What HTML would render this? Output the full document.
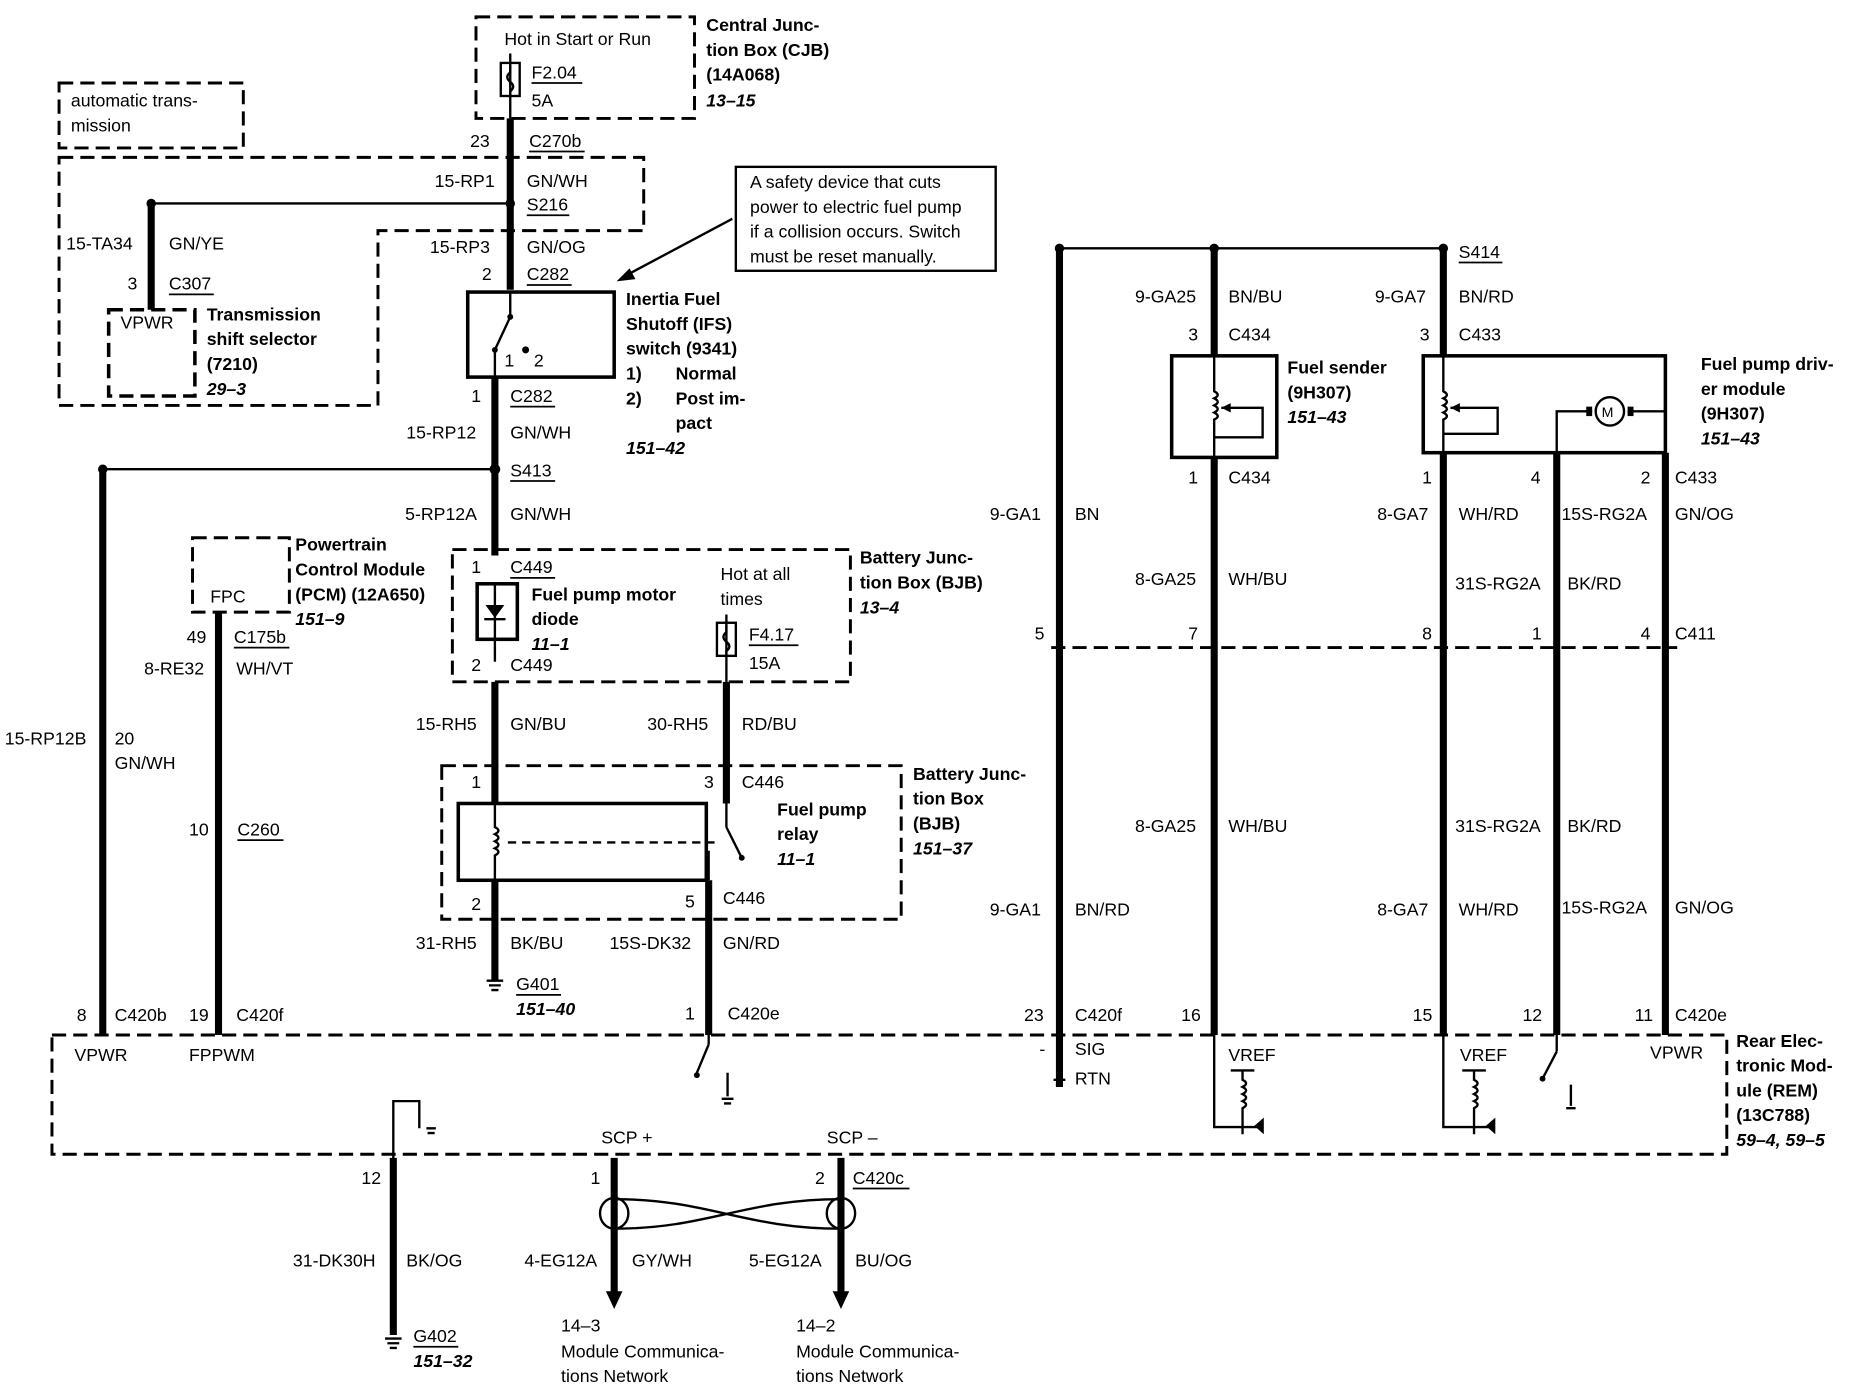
<!DOCTYPE html>
<html><head><meta charset="utf-8"><style>
html,body{margin:0;padding:0;background:#fff;}
svg{display:block;}
text{font-family:"Liberation Sans",Arial,sans-serif;font-size:15px;fill:#000;}
.b{font-weight:bold;}
.i{font-weight:bold;font-style:italic;}
.w{stroke:#000;stroke-width:6;fill:none;}
.t{stroke:#000;stroke-width:2;fill:none;}
.d{stroke:#000;stroke-width:2.5;fill:none;stroke-dasharray:12,6;}
.u{stroke:#000;stroke-width:1.5;}
</style></head><body>
<svg width="1852" height="1392" viewBox="0 0 1568 1178" xmlns="http://www.w3.org/2000/svg">
<rect width="1568" height="1178" fill="#fff"/>
<!-- dashed boxes -->
<rect x="403" y="14" width="185" height="86" class="d"/>
<text x="427" y="38">Hot in Start or Run</text>
<text class="b" x="598" y="26">Central Junc-</text>
<text class="b" x="598" y="47">tion Box (CJB)</text>
<text class="b" x="598" y="68">(14A068)</text>
<text class="i" x="598" y="90">13–15</text>
<rect x="50" y="70" width="156" height="55" class="d"/>
<text x="60" y="90">automatic trans-</text>
<text x="60" y="111">mission</text>
<path d="M50,133 H545 V195 H320 V343 H50 Z" class="d"/>
<rect x="92" y="262" width="73" height="73" class="d" style="stroke-width:3"/>
<text x="102" y="278">VPWR</text>
<text class="b" x="175" y="271">Transmission</text>
<text class="b" x="175" y="292">shift selector</text>
<text class="b" x="175" y="313">(7210)</text>
<text class="i" x="175" y="334">29–3</text>
<!-- fuse F2.04 -->
<line x1="432" y1="45" x2="432" y2="100" class="t"/>
<rect x="424" y="53" width="16" height="28" class="t" fill="#fff"/>
<path d="M432,55 v6 q-5,4 0,8 q5,4 0,8 v4" class="t"/>
<text x="450" y="66">F2.04</text><line x1="450" y1="70" x2="493" y2="70" class="u"/>
<text x="450" y="90">5A</text>
<!-- main wire top -->
<line x1="432" y1="100" x2="432" y2="245" class="w"/>
<text x="398" y="124">23</text><text x="448" y="124">C270b</text><line x1="448" y1="128" x2="495" y2="128" class="u"/>
<text x="368" y="158">15-RP1</text><text x="446" y="158">GN/WH</text>
<circle cx="432" cy="172" r="4"/>
<line x1="128" y1="172" x2="432" y2="172" class="t"/>
<circle cx="128" cy="172" r="4"/>
<text x="446" y="178">S216</text><line x1="446" y1="182" x2="482" y2="182" class="u"/>
<text x="364" y="214">15-RP3</text><text x="446" y="214">GN/OG</text>
<text x="408" y="237">2</text><text x="446" y="237">C282</text><line x1="446" y1="241" x2="484" y2="241" class="u"/>
<!-- 15-TA34 -->
<line x1="128" y1="172" x2="128" y2="262" class="w"/>
<text x="56" y="211">15-TA34</text><text x="143" y="211">GN/YE</text>
<text x="108" y="245">3</text><text x="143" y="245">C307</text><line x1="143" y1="249" x2="181" y2="249" class="u"/>
<!-- callout -->
<rect x="623" y="141" width="220" height="88" class="t"/>
<text x="635" y="159">A safety device that cuts</text>
<text x="635" y="180">power to electric fuel pump</text>
<text x="635" y="201">if a collision occurs. Switch</text>
<text x="635" y="222">must be reset manually.</text>
<line x1="620" y1="185" x2="528" y2="234" class="t"/>
<path d="M522,238 l16,-2 l-5,-9 z"/>
<!-- IFS switch -->
<rect x="396" y="247" width="124" height="72" stroke="#000" stroke-width="3" fill="none"/>
<line x1="432" y1="247" x2="432" y2="268" class="t"/>
<line x1="432" y1="268" x2="419" y2="296" class="t"/>
<circle cx="432" cy="268" r="2.5"/><circle cx="419" cy="296" r="2.5"/><circle cx="445" cy="296" r="3"/>
<text x="427" y="310">1</text><text x="452" y="310">2</text>
<line x1="419" y1="296" x2="419" y2="320" class="t"/>
<text class="b" x="530" y="258">Inertia Fuel</text>
<text class="b" x="530" y="279">Shutoff (IFS)</text>
<text class="b" x="530" y="300">switch (9341)</text>
<text class="b" x="530" y="321">1)</text><text class="b" x="572" y="321">Normal</text>
<text class="b" x="530" y="342">2)</text><text class="b" x="572" y="342">Post im-</text>
<text class="b" x="572" y="363">pact</text>
<text class="i" x="530" y="384">151–42</text>
<!-- lower main -->
<line x1="419" y1="320" x2="419" y2="470" class="w"/>
<text x="399" y="340">1</text><text x="432" y="340">C282</text><line x1="432" y1="344" x2="470" y2="344" class="u"/>
<text x="344" y="371">15-RP12</text><text x="432" y="371">GN/WH</text>
<circle cx="419" cy="397" r="4.5"/>
<line x1="87" y1="397" x2="419" y2="397" class="t"/>
<circle cx="87" cy="397" r="4"/>
<text x="432" y="403">S413</text><line x1="432" y1="407" x2="470" y2="407" class="u"/>
<text x="343" y="440">5-RP12A</text><text x="432" y="440">GN/WH</text>
<!-- BJB 1 -->
<rect x="383" y="465" width="337" height="112" class="d"/>
<text x="399" y="485">1</text><text x="432" y="485">C449</text><line x1="432" y1="489" x2="470" y2="489" class="u"/>
<rect x="404" y="494" width="34" height="47" stroke="#000" stroke-width="3" fill="none"/>
<line x1="419" y1="494" x2="419" y2="560" class="t"/>
<path d="M411,512 h16 l-8,11 z"/><line x1="410" y1="524" x2="428" y2="524" class="t"/>
<text class="b" x="450" y="508">Fuel pump motor</text>
<text class="b" x="450" y="529">diode</text>
<text class="i" x="450" y="550">11–1</text>
<text x="399" y="568">2</text><text x="432" y="568">C449</text>
<text x="610" y="491">Hot at all</text><text x="610" y="512">times</text>
<line x1="615" y1="520" x2="615" y2="577" class="t"/>
<rect x="607" y="527" width="16" height="28" class="t" fill="#fff"/>
<path d="M615,529 v6 q-5,4 0,8 q5,4 0,8 v4" class="t"/>
<text x="634" y="542">F4.17</text><line x1="634" y1="546" x2="676" y2="546" class="u"/>
<text x="634" y="566">15A</text>
<text class="b" x="728" y="477">Battery Junc-</text>
<text class="b" x="728" y="498">tion Box (BJB)</text>
<text class="i" x="728" y="519">13–4</text>
<line x1="419" y1="577" x2="419" y2="680" class="w"/>
<line x1="615" y1="577" x2="615" y2="680" class="w"/>
<text x="352" y="618">15-RH5</text><text x="432" y="618">GN/BU</text>
<text x="548" y="618">30-RH5</text><text x="628" y="618">RD/BU</text>
<!-- BJB 2 relay -->
<rect x="374" y="648" width="389" height="130" class="d"/>
<text x="399" y="667">1</text><text x="596" y="667">3</text><text x="628" y="667">C446</text>
<rect x="388" y="680" width="210" height="65" stroke="#000" stroke-width="3" fill="none"/>
<path d="M419,680 v20 q6,3 0,6 q6,3 0,6 q6,3 0,6 q6,3 0,6 v21" class="t"/>
<line x1="430" y1="713" x2="605" y2="713" class="t" stroke-dasharray="7,5"/>
<line x1="615" y1="680" x2="615" y2="700" class="t"/>
<line x1="615" y1="700" x2="628" y2="726" class="t"/>
<circle cx="628" cy="726" r="2.5"/>
<line x1="600" y1="720" x2="600" y2="745" class="t"/>
<text class="b" x="658" y="690">Fuel pump</text>
<text class="b" x="658" y="711">relay</text>
<text class="i" x="658" y="732">11–1</text>
<text class="b" x="773" y="660">Battery Junc-</text>
<text class="b" x="773" y="681">tion Box</text>
<text class="b" x="773" y="702">(BJB)</text>
<text class="i" x="773" y="723">151–37</text>
<text x="399" y="770">2</text><text x="580" y="768">5</text><text x="612" y="765">C446</text>
<line x1="419" y1="745" x2="419" y2="830" class="w"/>
<line x1="600" y1="745" x2="600" y2="876" class="w"/>
<text x="352" y="803">31-RH5</text><text x="432" y="803">BK/BU</text>
<text x="516" y="803">15S-DK32</text><text x="612" y="803">GN/RD</text>
<path d="M412,830 h14 M414,834 h10 M416,838 h6" class="t"/>
<text x="437" y="838">G401</text><line x1="437" y1="842" x2="475" y2="842" class="u"/>
<text class="i" x="437" y="859">151–40</text>
<!-- PCM -->
<rect x="163" y="455" width="82" height="63" class="d"/>
<text x="178" y="510">FPC</text>
<text class="b" x="250" y="466">Powertrain</text>
<text class="b" x="250" y="487">Control Module</text>
<text class="b" x="250" y="508">(PCM) (12A650)</text>
<text class="i" x="250" y="529">151–9</text>
<line x1="185" y1="518" x2="185" y2="876" class="w"/>
<text x="158" y="544">49</text><text x="198" y="544">C175b</text><line x1="198" y1="548" x2="245" y2="548" class="u"/>
<text x="122" y="571">8-RE32</text><text x="200" y="571">WH/VT</text>
<text x="160" y="707">10</text><text x="201" y="707">C260</text><line x1="201" y1="711" x2="240" y2="711" class="u"/>
<line x1="87" y1="397" x2="87" y2="876" class="w"/>
<text x="4" y="630">15-RP12B</text><text x="97" y="630">20</text><text x="97" y="651">GN/WH</text>
<text x="65" y="864">8</text><text x="97" y="864">C420b</text>
<text x="160" y="864">19</text><text x="200" y="864">C420f</text>
<text x="580" y="863">1</text><text x="616" y="863">C420e</text>
<!-- right side -->
<line x1="897" y1="210" x2="1222" y2="210" class="t"/>
<circle cx="897" cy="210" r="4"/><circle cx="1028" cy="210" r="4"/><circle cx="1222" cy="210" r="4"/>
<text x="1235" y="218">S414</text><line x1="1235" y1="222" x2="1272" y2="222" class="u"/>
<line x1="897" y1="210" x2="897" y2="920" class="w"/>
<line x1="1028" y1="210" x2="1028" y2="300" class="w"/>
<line x1="1222" y1="210" x2="1222" y2="300" class="w"/>
<text x="961" y="256">9-GA25</text><text x="1040" y="256">BN/BU</text>
<text x="1164" y="256">9-GA7</text><text x="1235" y="256">BN/RD</text>
<text x="1006" y="288">3</text><text x="1040" y="288">C434</text>
<text x="1202" y="288">3</text><text x="1235" y="288">C433</text>
<rect x="992" y="301" width="89" height="86" stroke="#000" stroke-width="3" fill="none"/>
<path d="M1028,301 v30 q6,3 0,6 q6,3 0,6 q6,3 0,6 q6,3 0,6 v32" class="t"/>
<path d="M1034,345 h35 v25 h-41" class="t"/><path d="M1034,345 l8,-4 v8 z"/>
<text class="b" x="1090" y="316">Fuel sender</text>
<text class="b" x="1090" y="337">(9H307)</text>
<text class="i" x="1090" y="358">151–43</text>
<rect x="1205" y="301" width="205" height="82" stroke="#000" stroke-width="3" fill="none"/>
<path d="M1222,301 v30 q6,3 0,6 q6,3 0,6 q6,3 0,6 q6,3 0,6 v28" class="t"/>
<path d="M1228,345 h40 v22 h-46" class="t"/><path d="M1228,345 l8,-4 v8 z"/>
<path d="M1318,383 V348 h30 M1378,348 H1410 V383" class="t"/>
<circle cx="1363" cy="348" r="12" stroke="#000" stroke-width="2" fill="#fff"/>
<text x="1356" y="353" style="font-size:12px">M</text>
<rect x="1343" y="344" width="5" height="8"/><rect x="1378" y="344" width="5" height="8"/>
<text class="b" x="1440" y="313">Fuel pump driv-</text>
<text class="b" x="1440" y="334">er module</text>
<text class="b" x="1440" y="355">(9H307)</text>
<text class="i" x="1440" y="376">151–43</text>
<line x1="1028" y1="387" x2="1028" y2="876" class="w"/>
<line x1="1222" y1="383" x2="1222" y2="876" class="w"/>
<line x1="1318" y1="383" x2="1318" y2="876" class="w"/>
<line x1="1410" y1="383" x2="1410" y2="876" class="w"/>
<text x="1006" y="409">1</text><text x="1040" y="409">C434</text>
<text x="1204" y="409">1</text><text x="1296" y="409">4</text><text x="1389" y="409">2</text><text x="1418" y="409">C433</text>
<text x="838" y="440">9-GA1</text><text x="910" y="440">BN</text>
<text x="1166" y="440">8-GA7</text><text x="1235" y="440">WH/RD</text>
<text x="1322" y="440">15S-RG2A</text><text x="1418" y="440">GN/OG</text>
<text x="961" y="495">8-GA25</text><text x="1040" y="495">WH/BU</text>
<text x="1232" y="499">31S-RG2A</text><text x="1327" y="499">BK/RD</text>
<line x1="890" y1="548" x2="1420" y2="548" class="d"/>
<text x="876" y="541">5</text><text x="1006" y="541">7</text><text x="1204" y="541">8</text><text x="1297" y="541">1</text><text x="1389" y="541">4</text><text x="1418" y="541">C411</text>
<text x="961" y="704">8-GA25</text><text x="1040" y="704">WH/BU</text>
<text x="1232" y="704">31S-RG2A</text><text x="1327" y="704">BK/RD</text>
<text x="838" y="775">9-GA1</text><text x="910" y="775">BN/RD</text>
<text x="1166" y="775">8-GA7</text><text x="1235" y="775">WH/RD</text>
<text x="1322" y="773">15S-RG2A</text><text x="1418" y="773">GN/OG</text>
<text x="867" y="864">23</text><text x="910" y="864">C420f</text>
<text x="1000" y="864">16</text><text x="1196" y="864">15</text><text x="1289" y="864">12</text><text x="1384" y="864">11</text><text x="1418" y="864">C420e</text>
<!-- REM box -->
<rect x="44" y="876" width="1418" height="101" class="d"/>
<text x="63" y="898">VPWR</text><text x="160" y="898">FPPWM</text>
<line x1="600" y1="876" x2="600" y2="884" class="t"/>
<line x1="600" y1="884" x2="590" y2="908" class="t"/><circle cx="590" cy="910" r="2.5"/>
<path d="M616,908 v20 M611,930 h10 M613,934 h6" class="t"/>
<text x="880" y="893">-</text><text x="910" y="893">SIG</text><text x="910" y="918">RTN</text>
<path d="M892,914 h10 M894,918 h6" class="t"/>
<text x="1040" y="898">VREF</text><text x="1236" y="898">VREF</text><text x="1397" y="896">VPWR</text>
<path d="M1028,876 V954 H1066" class="t"/><path d="M1042,906 h20 M1052,906 v8 q6,3 0,6 q6,3 0,6 q6,3 0,6 q6,3 0,6 v22" class="t"/><path d="M1070,946 v14 l-8,-7 z"/>
<path d="M1222,876 V954 H1262" class="t"/><path d="M1238,906 h20 M1248,906 v8 q6,3 0,6 q6,3 0,6 q6,3 0,6 q6,3 0,6 v22" class="t"/><path d="M1266,946 v14 l-8,-7 z"/>
<line x1="1318" y1="876" x2="1318" y2="890" class="t"/><line x1="1318" y1="890" x2="1306" y2="913" class="t"/><circle cx="1306" cy="913" r="2.5"/>
<path d="M1330,918 v18 M1326,938 h8" class="t"/>
<text class="b" x="1470" y="886">Rear Elec-</text>
<text class="b" x="1470" y="907">tronic Mod-</text>
<text class="b" x="1470" y="928">ule (REM)</text>
<text class="b" x="1470" y="949">(13C788)</text>
<text class="i" x="1470" y="970">59–4, 59–5</text>
<path d="M333,985 V932 H355 V955" class="t"/><path d="M361,955 h8 M362,959 h6" class="t"/>
<text x="509" y="968">SCP +</text><text x="700" y="968">SCP –</text>
<!-- bottom wires -->
<line x1="333" y1="980" x2="333" y2="1130" class="w"/>
<line x1="520" y1="980" x2="520" y2="1095" class="w"/><path d="M513,1093 h14 l-7,15 z"/>
<line x1="712" y1="980" x2="712" y2="1095" class="w"/><path d="M705,1093 h14 l-7,15 z"/>
<text x="306" y="1002">12</text><text x="500" y="1002">1</text><text x="690" y="1002">2</text><text x="722" y="1002">C420c</text><line x1="722" y1="1006" x2="770" y2="1006" class="u"/>
<path d="M520,1015 C600,1015 630,1040 712,1040 M520,1040 C600,1040 630,1015 712,1015" class="t"/>
<ellipse cx="520" cy="1027" rx="12" ry="13" class="t"/><ellipse cx="712" cy="1027" rx="12" ry="13" class="t"/>
<text x="248" y="1072">31-DK30H</text><text x="344" y="1072">BK/OG</text>
<text x="444" y="1072">4-EG12A</text><text x="535" y="1072">GY/WH</text>
<text x="634" y="1072">5-EG12A</text><text x="724" y="1072">BU/OG</text>
<path d="M326,1133 h14 M328,1137 h10 M330,1141 h6" class="t"/>
<text x="350" y="1136">G402</text><line x1="350" y1="1140" x2="388" y2="1140" class="u"/>
<text class="i" x="350" y="1157">151–32</text>
<text x="475" y="1127">14–3</text><text x="475" y="1149">Module Communica-</text><text x="475" y="1170">tions Network</text>
<text x="674" y="1127">14–2</text><text x="674" y="1149">Module Communica-</text><text x="674" y="1170">tions Network</text>
</svg>
</body></html>
